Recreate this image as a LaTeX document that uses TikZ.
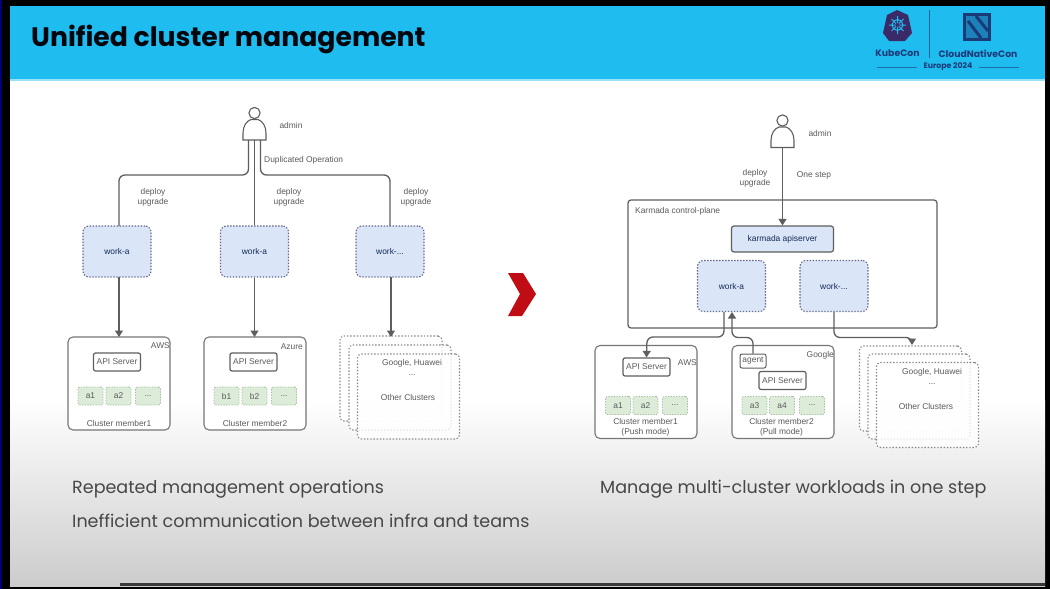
\documentclass[tikz,border=0pt]{standalone}
\usepackage{fontspec}
\setmainfont{Liberation Sans}
\newfontfamily\titlefont[BoldFont=Poppins Bold]{Poppins}
\usetikzlibrary{arrows.meta}
\definecolor{band}{HTML}{1FBCEF}
\definecolor{navy}{HTML}{1B3A78}
\definecolor{plum}{HTML}{3B2A68}
\definecolor{linegray}{HTML}{5E5E5E}
\definecolor{labelgray}{HTML}{5A5A5A}
\definecolor{workblue}{HTML}{DAE5F8}
\definecolor{workedge}{HTML}{66668A}
\definecolor{greenfill}{HTML}{DDEBD9}
\definecolor{greenedge}{HTML}{A3BF9E}
\definecolor{chev}{HTML}{C00D15}
\newcommand{\lab}[1]{\fontsize{8.4}{10}\selectfont #1}
\newcommand{\personshape}[2]{%
  \draw[personline] (#1,#2+6) circle[radius=5.6];
  \draw[personline,fill=white] (#1-11.5,#2+33) -- (#1-11.5,#2+26) .. controls (#1-11.5,#2+19) and (#1-8,#2+14) .. (#1-3.5,#2+12.5) -- (#1+3.5,#2+12.5) .. controls (#1+8,#2+14) and (#1+11.5,#2+19) .. (#1+11.5,#2+26) -- (#1+11.5,#2+33) -- cycle;
}
\tikzset{
  x=1pt,y=-1pt,
  personline/.style={draw=linegray,line width=1.1pt},
  wire/.style={draw=linegray,line width=1.3pt,rounded corners=6pt},
  arrowwire/.style={wire,-{Triangle[length=6.5pt,width=8pt]}},
  textlabel/.style={inner sep=0pt,text=labelgray,font=\lab,align=center},
  bullet/.style={inner sep=0pt,anchor=west,text=black!72,font=\titlefont\fontsize{17.55}{20}\selectfont},
  workbox/.style={draw=workedge,fill=workblue,line width=1.1pt,dash pattern=on 1.4pt off 1.6pt,rounded corners=6pt,minimum width=68pt,minimum height=51pt,inner sep=0pt,text=navy!70!black,font=\lab},
  apibox/.style={draw=linegray,fill=workblue,line width=1.2pt,rounded corners=2.5pt,minimum width=102pt,minimum height=26pt,inner sep=0pt,text=navy!70!black,font=\lab},
  clusterbox/.style={draw=linegray!85,fill=white,line width=1.1pt,rounded corners=5pt,minimum width=102pt,minimum height=93pt,inner sep=0pt},
  planebox/.style={draw=linegray,line width=1.2pt,rounded corners=3pt,minimum width=309pt,minimum height=128pt,inner sep=0pt},
  serverbox/.style={draw=linegray,fill=white,line width=1.2pt,rounded corners=2pt,minimum width=47pt,minimum height=18pt,inner sep=0pt,text=labelgray,font=\lab},
  agentbox/.style={serverbox,line width=1pt,minimum width=26pt,minimum height=14pt},
  podbox/.style={draw=greenedge,fill=greenfill,line width=.9pt,dash pattern=on 1.3pt off 1.4pt,rounded corners=2pt,minimum width=25pt,minimum height=18pt,inner sep=0pt,text=labelgray,font=\lab},
  stackbox/.style={draw=linegray!75,fill=white,fill opacity=.8,line width=1.1pt,dash pattern=on 1.4pt off 1.8pt,rounded corners=4pt,minimum width=102pt,minimum height=85pt,inner sep=0pt},
  ghost/.style={inner sep=0pt,minimum width=22pt,minimum height=16pt},
  logotext/.style={inner sep=0pt,text=navy,font=\titlefont\bfseries\fontsize{9.3}{11}\selectfont},
}
\begin{document}
\begin{tikzpicture}
\useasboundingbox (0,0) rectangle (1050,589);
% slide frame
\fill[black] (0,0) rectangle (1050,589);
\fill[blue!45!black] (0,0) rectangle (1.5,589);
\fill[white] (10,80) rectangle (1045,586);
\shade[top color=white,bottom color=black!20] (10,400) rectangle (1045,586);
\fill[black!78] (120,583) rectangle (1045,586);
\fill[band] (10,6) rectangle (1045,80);
\fill[band!45!white] (10,79.2) rectangle (1045,80.5);
\node[inner sep=0pt,anchor=base west,text=black!90!navy,font=\titlefont\bfseries\fontsize{26.7}{30}\selectfont] (title) at (31,46) {Unified cluster management};
% logos
\fill[plum] (897,10) -- (908,15) -- (912,33) -- (905,41) -- (889,41) -- (883,33) -- (887,15) -- cycle;
\draw[band,line width=1pt] (897.5,25) circle[radius=5.5] (897.5,16) -- (897.5,34) (889,25) -- (906,25) (891.5,19) -- (903.5,31) (903.5,19) -- (891.5,31);
\fill[plum] (897.5,25) circle[radius=2];
\draw[navy!70!band,line width=.8pt] (929,10) -- (929,58);
\fill[navy] (963,13) rectangle (991,41);
\fill[band!55!navy] (966,16) rectangle (988,38);
\draw[navy,line width=3pt] (968,21) -- (981,38) (976,16) -- (988,31);
\node[logotext] (kubecon) at (897.5,53.5) {KubeCon};
\node[logotext] (cncon) at (978,53.5) {CloudNativeCon};
\node[logotext,font=\titlefont\bfseries\fontsize{7.8}{9}\selectfont] (europe) at (948,66.5) {Europe 2024};
\draw[navy!60!band,line width=.6pt] (877,67) -- (917,67) (979,67) -- (1019,67);
% chevron
\fill[chev] (508,273) -- (523,273) -- (536,294) -- (522,316) -- (508,316) -- (520,294) -- cycle;

% ---------- left diagram
\personshape{254.5}{107}
\node[ghost] (adminL) at (254.5,132) {};
\node[textlabel] (adminLt) at (291,125.5) {admin};
\node[textlabel,anchor=west] (dup) at (264,160) {Duplicated Operation};
\node[textlabel] (du1) at (153,197) {deploy\\upgrade};
\node[textlabel] (du2) at (289,197) {deploy\\upgrade};
\node[textlabel] (du3) at (416,197) {deploy\\upgrade};
\node[workbox] (w1) at (117,251.5) {work-a};
\node[workbox] (w2) at (254.5,251.5) {work-a};
\node[workbox] (w3) at (390,251.5) {work-...};
\node[clusterbox] (c1) at (119,383.5) {};
\node[clusterbox] (c2) at (255,383.5) {};
\node[stackbox] (s1) at (391,378.5) {};
\node[stackbox] (s2) at (400,387.5) {};
\node[stackbox] (s3) at (408.5,396.5) {};
\node[textlabel,anchor=east] (aws1) at (170,346) {AWS};
\node[textlabel,anchor=east] (az) at (303,346.5) {Azure};
\node[serverbox] (api1) at (117,362) {API Server};
\node[serverbox] (api2) at (253.5,362) {API Server};
\node[podbox] (a1) at (90.5,396) {a1};
\node[podbox] (a2) at (118.5,396) {a2};
\node[podbox] (a3) at (148,396) {...};
\node[podbox] (b1) at (226.5,396) {b1};
\node[podbox] (b2) at (254.5,396) {b2};
\node[podbox] (b3) at (284,396) {...};
\node[textlabel] (m1) at (119,423.5) {Cluster member1};
\node[textlabel] (m2) at (255,423.5) {Cluster member2};
\node[textlabel] (gh1) at (412,363) {Google, Huawei};
\node[textlabel] (gd1) at (412,375) {...};
\node[textlabel] (oc1) at (408,397) {Other Clusters};
\draw[wire] ([xshift=-6pt]adminL.south) |- (119,175) -- (119,226);
\draw[wire] (adminL.south) -- (w2.north);
\draw[wire] ([xshift=6pt]adminL.south) |- (390,175) -- (390,226);
\draw[arrowwire] (119,277) -- (119,337);
\draw[arrowwire] (w2.south) -- (254.5,337);
\draw[arrowwire] (391,277) -- (391,337);

% ---------- right diagram
\personshape{782.5}{114.5}
\node[ghost] (adminR) at (782.5,139.5) {};
\node[textlabel] (adminRt) at (820,133) {admin};
\node[textlabel] (du4) at (755,178) {deploy\\upgrade};
\node[textlabel] (one) at (814,175.5) {One step};
\node[planebox] (plane) at (782.5,264) {};
\node[textlabel,anchor=west] (planet) at (635,211) {Karmada control-plane};
\node[apibox] (kapi) at (782.5,239) {karmada apiserver};
\node[workbox] (rw1) at (731.5,286) {work-a};
\node[workbox] (rw2) at (834,286) {work-...};
\node[clusterbox] (rc1) at (646,392) {};
\node[clusterbox] (rc2) at (783,392) {};
\node[stackbox] (rs1) at (910.5,388.5) {};
\node[stackbox] (rs2) at (919,396.5) {};
\node[stackbox] (rs3) at (927.5,405) {};
\node[serverbox] (rapi1) at (646.5,367) {API Server};
\node[textlabel,anchor=east] (raws) at (697,363) {AWS};
\node[textlabel,anchor=east] (rgo) at (834,355) {Google};
\node[agentbox] (agent) at (753,361) {agent};
\node[serverbox] (rapi2) at (782.5,380.5) {API Server};
\node[podbox] (ra1) at (618,405.5) {a1};
\node[podbox] (ra2) at (645.5,405.5) {a2};
\node[podbox] (ra3) at (675,405.5) {...};
\node[podbox] (ra4) at (754.5,405.5) {a3};
\node[podbox] (ra5) at (782,405.5) {a4};
\node[podbox] (ra6) at (812,405.5) {...};
\node[textlabel] (rm1) at (645.5,427.5) {Cluster member1\\(Push mode)};
\node[textlabel] (rm2) at (781.5,427.5) {Cluster member2\\(Pull mode)};
\node[textlabel] (gh2) at (932,372) {Google, Huawei};
\node[textlabel] (gd2) at (932,384) {...};
\node[textlabel] (oc2) at (926,406) {Other Clusters};
\draw[arrowwire] (adminR.south) -- (kapi.north);
\draw[arrowwire] ([xshift=-7.5pt]rw1.south) |- (647,337) -- (rapi1.north);
\draw[arrowwire] (agent.north) |- (732,337.5) -- (732,312);
\draw[arrowwire] (rw2.south) |- (912,337.5) -- (912,345);
% body text
\node[bullet] (t1) at (72,489) {Repeated management operations};
\node[bullet] (t2) at (72,521) {Inefficient communication between infra and teams};
\node[bullet] (t3) at (600,489.5) {Manage multi-cluster workloads in one step};
\end{tikzpicture}
\end{document}
